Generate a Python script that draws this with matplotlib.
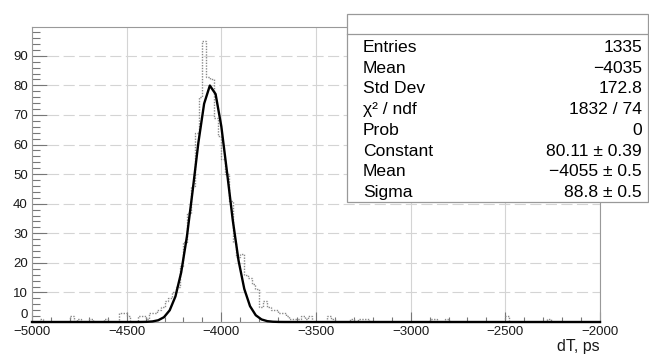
import matplotlib
matplotlib.use("Agg")
import matplotlib.pyplot as plt
from matplotlib.patches import Rectangle
from matplotlib.lines import Line2D
from matplotlib.ticker import MultipleLocator, FuncFormatter
import numpy as np

plt.rcParams["font.family"] = ["Liberation Sans", "DejaVu Sans"]

# ── data ────────────────────────────────────────────────────────────────────
HIST_LO, HIST_HI, BIN_W = -5000, -2000, 20

# left edge of each non-empty bin (ps) and its content
bin_left = [-4960, -4800, -4760, -4700, -4620, -4540, -4520, -4500,
            -4440, -4420, -4400, -4380, -4360, -4340, -4320, -4300,
            -4280, -4260, -4240, -4220, -4200, -4180, -4160, -4140,
            -4120, -4100, -4080, -4060, -4040, -4020, -4000, -3980,
            -3960, -3940, -3920, -3900, -3880, -3860, -3840, -3820,
            -3800, -3780, -3760, -3740, -3720, -3700, -3680, -3660,
            -3640, -3620, -3600, -3580, -3560, -3540, -3440, -3420,
            -3320, -3280, -3260, -3240, -2900, -2880, -2820, -2500,
            -2280]
bin_count = [1, 2, 1, 1, 1, 3, 3, 2,
             2, 2, 1, 3, 3, 4, 5, 7,
             8, 10, 12, 19, 27, 37, 46, 64,
             76, 95, 83, 82, 69, 63, 55, 50,
             41, 27, 22, 23, 16, 15, 13, 11,
             5, 7, 5, 4, 4, 3, 3, 2,
             1, 1, 1, 2, 1, 2, 2, 1,
             1, 1, 1, 1, 1, 1, 1, 2,
             1]

# gaussian fit parameters (from the stats box)
fit_const, fit_mean, fit_sigma = 80.11, -4055.0, 88.8
fit_npx = 100

stat_names = ["Entries", "Mean", "Std Dev", "χ² / ndf", "Prob",
              "Constant", "Mean", "Sigma"]
stat_values = ["1335", "−4035", "172.8", "1832 / 74", "0",
               "80.11 ± 0.39", "−4055 ± 0.5", "88.8 ± 0.5"]

# ── figure ──────────────────────────────────────────────────────────────────
W, H = 649, 356
fig = plt.figure(figsize=(W / 100, H / 100), dpi=100)


def fx(px):
    return px / W


def fy(py):
    return 1 - py / H


ax = fig.add_axes([fx(32), fy(322), fx(600) - fx(32), fy(27) - fy(322)])

edges = np.arange(HIST_LO, HIST_HI + BIN_W, BIN_W)
counts = np.zeros(len(edges) - 1)
for left, c in zip(bin_left, bin_count):
    counts[int(round((left - HIST_LO) / BIN_W))] = c

ax.stairs(counts, edges, color="#8a8a8a", linewidth=1.0,
          linestyle=(0, (1, 1)), zorder=3)

xs = np.linspace(HIST_LO, HIST_HI, fit_npx)
ys = fit_const * np.exp(-0.5 * ((xs - fit_mean) / fit_sigma) ** 2)
ax.plot(xs, ys, color="black", linewidth=1.7, zorder=4, clip_on=False)

ax.set_xlim(HIST_LO, HIST_HI)
ax.set_ylim(0, max(bin_count) * 1.05)

ax.xaxis.set_major_locator(MultipleLocator(500))
ax.xaxis.set_minor_locator(MultipleLocator(100))
ax.yaxis.set_major_locator(MultipleLocator(10))
ax.yaxis.set_minor_locator(MultipleLocator(2))
# the "0" label is drawn by hand, a bit higher, so it clears "-5000"
ax.yaxis.set_major_formatter(FuncFormatter(lambda v, p: "" if v == 0 else f"{v:g}"))

ax.tick_params(axis="both", which="both", direction="in", colors="#777777",
               labelcolor="#1a1a1a", labelsize=9.5, width=0.8)
ax.tick_params(axis="x", which="major", length=7, pad=3)
ax.tick_params(axis="x", which="minor", length=3.5)
ax.tick_params(axis="y", which="major", length=11, pad=3)
ax.tick_params(axis="y", which="minor", length=5.5)
ax.tick_params(top=False, right=False)

fig.text(fx(28), fy(321.5), "0", ha="right", va="bottom", fontsize=9.5,
         color="#1a1a1a")

for s in ax.spines.values():
    s.set_color("#999999")
    s.set_linewidth(0.8)

ax.xaxis.grid(True, color="#d4d4d4", linewidth=0.8)
ax.yaxis.grid(True, color="#d4d4d4", linewidth=0.8, linestyle=(0, (10, 4)))
ax.set_axisbelow(True)

fig.text(fx(600), fy(347), "dT, ps", ha="right", va="center", fontsize=11.5,
         color="#1a1a1a")

# ── stats box ───────────────────────────────────────────────────────────────
box_l, box_t, box_r, box_b = 347, 14, 648, 202
fig.patches.append(Rectangle((fx(box_l), fy(box_b)), fx(box_r) - fx(box_l),
                             fy(box_t) - fy(box_b), transform=fig.transFigure,
                             facecolor="white", edgecolor="#999999",
                             linewidth=0.9, zorder=5))
fig.lines.append(Line2D([fx(box_l), fx(box_r)], [fy(34), fy(34)],
                        transform=fig.transFigure, color="#999999",
                        linewidth=0.9, zorder=6))

row0, row_step = 47.5, 20.7
for i, (name, val) in enumerate(zip(stat_names, stat_values)):
    y = fy(row0 + i * row_step)
    fig.text(fx(363), y, name, ha="left", va="center", fontsize=12.6,
             color="black", zorder=7)
    fig.text(fx(642), y, val, ha="right", va="center", fontsize=12.6,
             color="black", zorder=7)

fig.savefig("out.png", dpi=100)
